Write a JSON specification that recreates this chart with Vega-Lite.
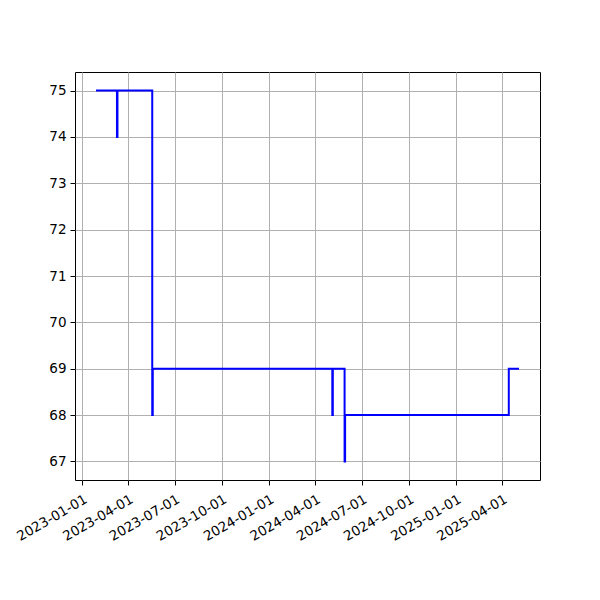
{
  "$schema": "https://vega.github.io/schema/vega-lite/v6.json",
  "width": 465,
  "height": 408,
  "autosize": {"type": "none"},
  "padding": {"left": 75, "top": 72, "right": 60, "bottom": 120},
  "background": "white",
  "config": {
    "view": {"stroke": "black", "strokeWidth": 1},
    "font": "DejaVu Sans",
    "axis": {
      "labelFont": "DejaVu Sans",
      "labelFontSize": 13.5,
      "labelColor": "black",
      "tickColor": "black",
      "tickSize": 5,
      "tickWidth": 1,
      "domain": false,
      "gridColor": "#b0b0b0",
      "gridWidth": 1,
      "gridOpacity": 1,
      "labelPadding": 4,
      "title": null
    }
  },
  "data": {
    "values": [
      {"date": "2023-01-28", "value": 75},
      {"date": "2023-03-10", "value": 74},
      {"date": "2023-03-11", "value": 75},
      {"date": "2023-05-18", "value": 68},
      {"date": "2023-05-19", "value": 69},
      {"date": "2024-05-04", "value": 68},
      {"date": "2024-05-05", "value": 69},
      {"date": "2024-05-28", "value": 67},
      {"date": "2024-05-29", "value": 68},
      {"date": "2025-04-14", "value": 69},
      {"date": "2025-05-04", "value": 69}
    ]
  },
  "mark": {"type": "line", "interpolate": "step-after", "color": "#0000ff", "strokeWidth": 2},
  "encoding": {
    "x": {
      "field": "date",
      "type": "temporal",
      "scale": {
        "type": "utc",
        "domain": [
          {"year": 2022, "month": 12, "date": 18, "utc": true},
          {"year": 2025, "month": 6, "date": 14, "utc": true}
        ]
      },
      "axis": {
        "values": [
          {"year": 2023, "month": 1, "date": 1, "utc": true},
          {"year": 2023, "month": 4, "date": 1, "utc": true},
          {"year": 2023, "month": 7, "date": 1, "utc": true},
          {"year": 2023, "month": 10, "date": 1, "utc": true},
          {"year": 2024, "month": 1, "date": 1, "utc": true},
          {"year": 2024, "month": 4, "date": 1, "utc": true},
          {"year": 2024, "month": 7, "date": 1, "utc": true},
          {"year": 2024, "month": 10, "date": 1, "utc": true},
          {"year": 2025, "month": 1, "date": 1, "utc": true},
          {"year": 2025, "month": 4, "date": 1, "utc": true}
        ],
        "labelExpr": "utcFormat(datum.value, '%Y-%m-%d')",
        "labelAngle": -30,
        "labelAlign": "right",
        "labelBaseline": "top",
        "labelDx": -4,
        "labelPadding": 7,
        "labelOverlap": false,
        "labelFlush": false
      }
    },
    "y": {
      "field": "value",
      "type": "quantitative",
      "scale": {"domain": [66.6, 75.4], "nice": false, "zero": false},
      "axis": {
        "values": [67, 68, 69, 70, 71, 72, 73, 74, 75],
        "labelOverlap": false,
        "labelFlush": false
      }
    }
  }
}
